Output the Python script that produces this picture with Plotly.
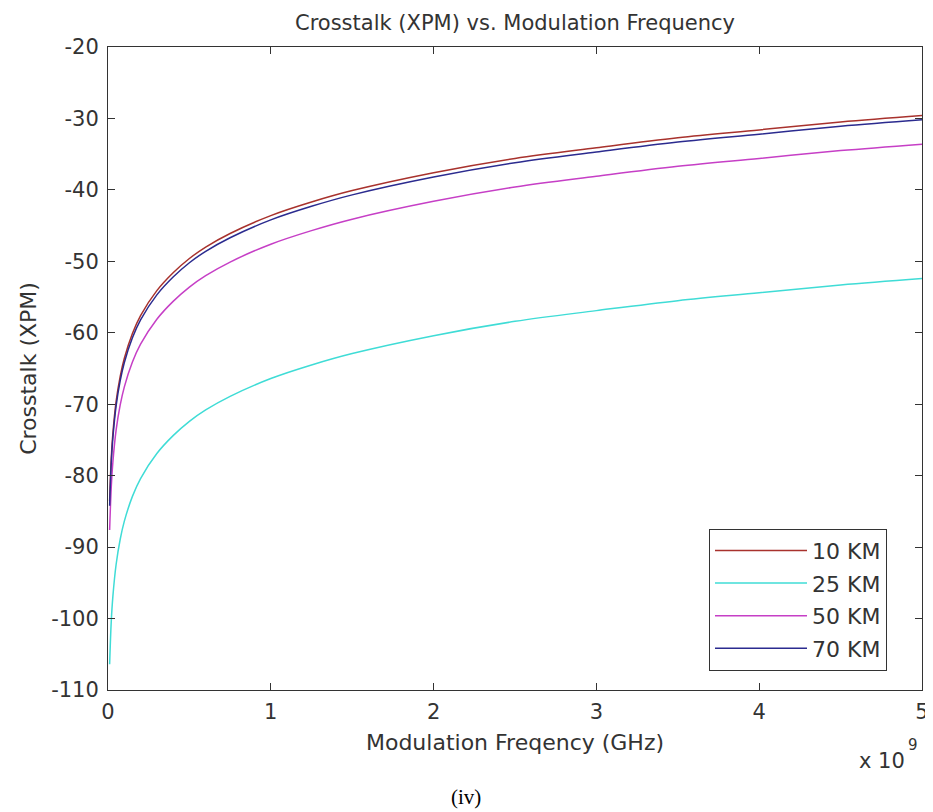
import plotly.graph_objects as go

# modulation frequency (GHz) and crosstalk (dB)
freq_ghz = [0.01, 0.02, 0.03, 0.05, 0.075, 0.1, 0.15, 0.2, 0.3, 0.4, 0.5, 0.6,
            0.75, 1.0, 1.25, 1.5, 2.0, 2.5, 3.0, 3.5, 4.0, 4.5, 5.0]
xpm_10km = [-83.6, -77.6, -74.1, -69.6, -66.1, -63.6, -60.1, -57.6, -54.1, -51.6,
            -49.6, -48.0, -46.1, -43.6, -41.7, -40.1, -37.6, -35.6, -34.1, -32.7,
            -31.6, -30.5, -29.6]
xpm_25km = [-106.4, -100.4, -96.9, -92.4, -88.9, -86.4, -82.9, -80.4, -76.9, -74.4,
            -72.4, -70.8, -68.9, -66.4, -64.5, -62.9, -60.4, -58.4, -56.9, -55.5,
            -54.4, -53.3, -52.4]
xpm_50km = [-87.6, -81.6, -78.1, -73.6, -70.1, -67.6, -64.1, -61.6, -58.1, -55.6,
            -53.6, -52.0, -50.1, -47.6, -45.7, -44.1, -41.6, -39.6, -38.1, -36.7,
            -35.6, -34.5, -33.6]
xpm_70km = [-84.2, -78.2, -74.7, -70.2, -66.7, -64.2, -60.7, -58.2, -54.7, -52.2,
            -50.2, -48.6, -46.7, -44.2, -42.3, -40.7, -38.2, -36.2, -34.7, -33.3,
            -32.2, -31.1, -30.2]

names = ['10 KM', '25 KM', '50 KM', '70 KM']
colors = ['#a8322d', '#3fdcd6', '#c63fc6', '#2b2b8f']
x_ticks = [0, 1, 2, 3, 4, 5]
y_ticks = [-20, -30, -40, -50, -60, -70, -80, -90, -100, -110]

freq_hz = [f * 1e9 for f in freq_ghz]
font = 'DejaVu Sans, Arial, sans-serif'
ink = '#333333'

fig = go.Figure()
for name, ys, c in zip(names, [xpm_10km, xpm_25km, xpm_50km, xpm_70km], colors):
    fig.add_trace(go.Scatter(x=freq_hz, y=ys, name=name, mode='lines',
                             line=dict(color=c, width=1.5, shape='spline'),
                             legendgroup=name))

axis_style = dict(showline=True, linecolor=ink, linewidth=1, mirror='ticks',
                  ticks='inside', ticklen=7, tickcolor=ink, showgrid=False,
                  zeroline=False, tickfont=dict(family=font, size=21, color=ink))

# the page body has an 8px margin, so the figure is sized 8px smaller
fig.update_layout(
    width=925, height=804,
    margin=dict(l=100, r=11, t=39, b=122),
    paper_bgcolor='white', plot_bgcolor='white',
    font=dict(family=font, color=ink),
    title=dict(text='Crosstalk (XPM) vs. Modulation Frequency', x=0.5, xref='paper',
               xanchor='center', y=0.982, yanchor='middle',
               font=dict(size=21, color=ink)),
    xaxis=dict(range=[0, 5e9], tickvals=[t * 1e9 for t in x_ticks],
               ticktext=[str(t) for t in x_ticks], ticklabelstandoff=3,
               automargin=False,
               title=dict(text='Modulation Freqency (GHz)', font=dict(size=22), standoff=11),
               **axis_style),
    yaxis=dict(range=[-110, -20], tickvals=y_ticks, ticktext=[str(t) for t in y_ticks],
               ticklabelstandoff=4,
               title=dict(text='Crosstalk (XPM)', font=dict(size=22), standoff=8),
               **axis_style),
    legend=dict(x=0.957, xanchor='right', y=0.030, yanchor='bottom',
                bordercolor=ink, borderwidth=1, bgcolor='white',
                font=dict(family=font, size=22, color=ink),
                traceorder='grouped', tracegroupgap=1, itemwidth=92),
    showlegend=True,
)

fig.add_annotation(x=0.981, xref='paper', xanchor='right', y=-0.110, yref='paper',
                   yanchor='middle', showarrow=False, text='x 10',
                   font=dict(family=font, size=21, color=ink))
fig.add_annotation(x=0.989, xref='paper', xanchor='center', y=-0.086, yref='paper',
                   yanchor='middle', showarrow=False, text='9',
                   font=dict(family=font, size=15, color=ink))
fig.add_annotation(x=0.44, xref='paper', xanchor='center', y=-0.166, yref='paper',
                   yanchor='middle', showarrow=False, text='(iv)',
                   font=dict(family='Liberation Serif, Times New Roman, serif', size=21,
                             color='black'))

fig.write_html("out.html")
